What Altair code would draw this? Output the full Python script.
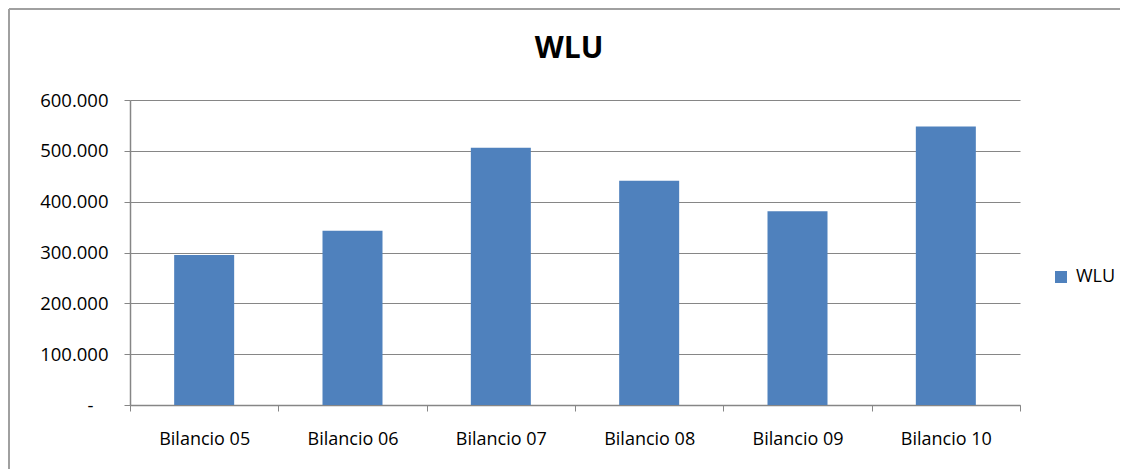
import altair as alt
import pandas as pd

chart_title = "WLU"
categories = ["Bilancio 05", "Bilancio 06", "Bilancio 07", "Bilancio 08", "Bilancio 09", "Bilancio 10"]
values = [295000, 343000, 506000, 441000, 381000, 548000]
series = ["WLU"] * len(categories)
y_ticks = [0, 100000, 200000, 300000, 400000, 500000, 600000]

df = pd.DataFrame({"cat": categories, "val": values, "serie": series})

FONT = "Open Sans"
GRAY = "#868686"

bars = alt.Chart(df).mark_bar(size=60).encode(
    x=alt.X("cat:N", sort=categories, title=None,
            scale=alt.Scale(paddingInner=0, paddingOuter=0),
            axis=alt.Axis(labelAngle=0, tickBand="extent", ticks=True, tickSize=6,
                          tickColor=GRAY, domainColor=GRAY, domainWidth=1.5,
                          labelFont=FONT, labelFontSize=18, labelColor="#000000",
                          labelPadding=19, grid=False)),
    y=alt.Y("val:Q", title=None,
            scale=alt.Scale(domain=[0, 600000], nice=False),
            axis=alt.Axis(values=y_ticks, tickSize=6, tickColor=GRAY, domainColor=GRAY,
                          domainWidth=1.5, gridColor=GRAY, gridWidth=1.2,
                          labelFont=FONT, labelFontSize=18.5, labelColor="#000000",
                          labelPadding={"condition": {"test": "datum.value == 0", "value": 31}, "value": 16},
                          labelExpr="datum.value == 0 ? '-' : replace(format(datum.value, ',.0f'), ',', '.')")),
    color=alt.Color("serie:N", scale=alt.Scale(range=["#4F81BD"]),
                    legend=alt.Legend(title=None, orient="none", legendX=922, legendY=168,
                                      symbolType="square", symbolSize=144, symbolStrokeWidth=0,
                                      labelFont=FONT, labelFontSize=18, labelColor="#000000",
                                      labelOffset=6, padding=0)),
)

frame = alt.Chart(alt.Data(values=[{"t": chart_title}]))
left_border = frame.mark_rule(color="#a0a0a0", strokeWidth=2).encode(
    x=alt.value(-121), y=alt.value(-91), y2=alt.value(500))
top_border = frame.mark_rule(color="#a0a0a0", strokeWidth=2).encode(
    x=alt.value(-121), x2=alt.value(1200), y=alt.value(-91))
title_text = frame.mark_text(font=FONT, fontSize=30, fontWeight="bold", color="#000000",
                             align="center", baseline="alphabetic").encode(
    text="t:N", x=alt.value(439), y=alt.value(-42))

chart = alt.layer(bars, left_border, top_border, title_text).properties(
    width=890, height=305,
    autosize=alt.AutoSizeParams(type="none"),
    padding={"left": 122, "top": 92, "right": 100, "bottom": 64},
).configure_view(stroke=None)

chart.save("out.html", embed_options={"renderer": "svg", "actions": False})
